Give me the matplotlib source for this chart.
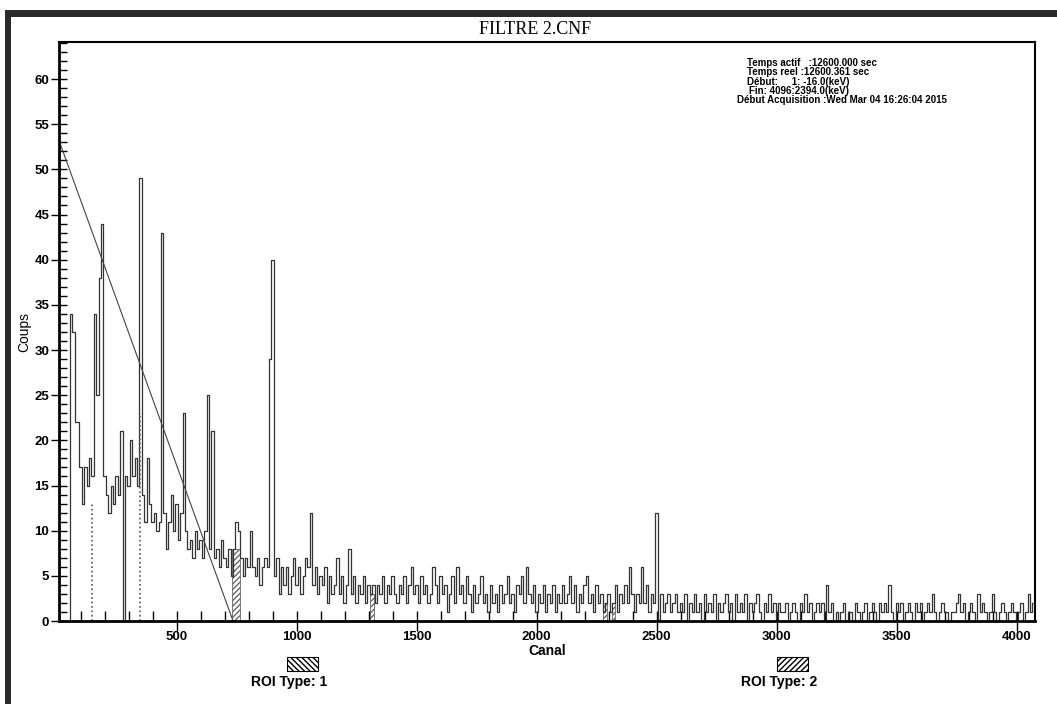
#Import libraries
import numpy as np
import matplotlib.pyplot as plt
from matplotlib.patches import Rectangle
from matplotlib.ticker import MultipleLocator

#Counts, one value every 10 channels
counts_0 = [0, 0, 0, 0, 0, 34, 32, 22, 22, 17,
            13, 17, 15, 18, 16, 34, 25, 38, 44, 16,
            14, 12, 15, 13, 16, 14, 21, 0, 16, 15,
            20, 16, 18, 15, 49, 14, 11, 18, 13, 11,
            12, 10, 11, 43, 12, 8, 11, 14, 10, 13,
            9, 12, 23, 10, 8, 9, 7, 10, 8, 9,
            7, 10, 25, 8, 21, 7, 8, 6, 9, 7,
            6, 8, 5, 8, 11, 10, 7, 5, 7, 6,
            10, 6, 5, 7, 4, 6, 7, 6, 29, 40,
            5, 7, 3, 6, 4, 6, 3, 5, 7, 4]
counts_1000 = [6, 3, 5, 7, 6, 12, 4, 6, 3, 5,
               4, 6, 2, 5, 3, 4, 7, 3, 5, 2,
               4, 8, 3, 5, 2, 4, 3, 5, 2, 4,
               3, 4, 2, 4, 3, 5, 2, 4, 3, 5,
               3, 2, 4, 3, 5, 2, 4, 6, 3, 4,
               2, 5, 3, 4, 2, 3, 6, 4, 2, 5,
               3, 4, 1, 3, 5, 2, 6, 3, 4, 2,
               5, 3, 1, 4, 2, 3, 5, 2, 3, 1,
               4, 2, 3, 1, 4, 2, 3, 5, 2, 3,
               1, 4, 3, 5, 2, 6, 3, 2, 4, 1]
counts_2000 = [3, 2, 4, 1, 3, 2, 4, 1, 3, 2,
               4, 2, 3, 5, 2, 4, 1, 3, 2, 4,
               5, 2, 3, 1, 4, 2, 3, 1, 2, 3,
               1, 2, 4, 1, 3, 2, 4, 2, 6, 3,
               1, 3, 2, 6, 2, 4, 1, 3, 2, 12,
               0, 3, 1, 2, 3, 1, 2, 3, 1, 2,
               1, 3, 0, 2, 1, 3, 1, 2, 0, 3,
               1, 2, 1, 3, 0, 2, 1, 2, 3, 1,
               2, 0, 3, 1, 2, 1, 3, 0, 2, 1,
               2, 3, 1, 0, 2, 1, 3, 1, 2, 0]
counts_3000 = [2, 1, 1, 2, 0, 1, 2, 1, 0, 2,
               1, 3, 1, 2, 0, 1, 2, 1, 2, 0,
               4, 1, 2, 0, 1, 0, 1, 2, 0, 1,
               1, 0, 2, 1, 0, 1, 2, 0, 1, 2,
               1, 0, 2, 1, 2, 1, 4, 1, 0, 2,
               1, 2, 0, 1, 2, 1, 0, 2, 1, 2,
               0, 1, 2, 1, 3, 1, 0, 1, 2, 1,
               1, 0, 1, 1, 2, 3, 1, 2, 0, 1,
               2, 1, 0, 3, 1, 2, 1, 0, 1, 3,
               1, 0, 1, 2, 1, 0, 1, 2, 1, 0,
               1, 2, 0, 1, 3, 1, 2]

#Straight line drawn over the low channels
line_ch = [10, 735]
line_counts = [53.2, 0]

#Single channel ROI markers (dotted)
mark_ch = [148, 346]
mark_counts = [13, 23]

#Hatched ROI areas: start, end, height
roi_start = [729, 1305, 2277, 2312]
roi_end = [764, 1323, 2293, 2326]
roi_height = [8, 3, 2, 2]

#Acquisition info
info_lines = ['Temps actif   :12600.000 sec',
              'Temps reel :12600.361 sec',
              'Début:     1: -16.0(keV)',
              'Fin: 4096:2394.0(keV)',
              'Début Acquisition :Wed Mar 04 16:26:04 2015']

counts = np.array(counts_0 + counts_1000 + counts_2000 + counts_3000)
channels = 10 * np.arange(1, len(counts) + 1)

W, H = 1057, 704
lab_font = ['Liberation Sans', 'DejaVu Sans']

fig = plt.figure(figsize=(W / 100, H / 100), dpi=100)
ax = fig.add_axes([59 / W, (H - 621) / H, (1035 - 59) / W, (621 - 42) / H])

ax.plot(channels, counts, drawstyle='steps-mid', color='#333333', lw=0.9)
ax.plot(line_ch, line_counts, color='#444444', lw=0.8)
ax.vlines(mark_ch, 0, mark_counts, colors='#555555', linestyles=':', lw=1.2)
for s, e, h in zip(roi_start, roi_end, roi_height):
    ax.fill_between([s, e], 0, h, facecolor='white', edgecolor='#666666',
                    hatch='//////', lw=0.6)

ax.set_xlim(10, 4076)
ax.set_ylim(0, 64.1)
ax.xaxis.set_major_locator(MultipleLocator(500))
ax.xaxis.set_minor_locator(MultipleLocator(100))
ax.yaxis.set_major_locator(MultipleLocator(5))
ax.yaxis.set_minor_locator(MultipleLocator(1))
ax.set_xticks(np.arange(500, 4001, 500))
ax.tick_params(axis='x', which='major', direction='inout', length=14, width=1, pad=0)
ax.tick_params(axis='x', which='minor', direction='in', length=7, width=1)
ax.tick_params(axis='y', which='major', direction='inout', length=12, width=1, pad=1)
ax.tick_params(axis='y', which='minor', direction='in', length=6, width=1)
for lab in ax.get_xticklabels() + ax.get_yticklabels():
    lab.set_family(lab_font)
    lab.set_fontweight('bold')
    lab.set_fontsize(9.5)
ax.spines['left'].set_linewidth(2)
ax.spines['bottom'].set_linewidth(2)
ax.spines['top'].set_linewidth(1.5)
ax.spines['right'].set_linewidth(1.5)

ax.set_xlabel('Canal', family=lab_font, fontsize=10, fontweight='bold', labelpad=1)
ax.set_ylabel('Coups', family=lab_font, fontsize=10, labelpad=2)

#Title and info block
fig.text(535 / W, 1 - 30 / H, 'FILTRE 2.CNF', family='Liberation Serif',
         fontsize=13, ha='center', va='center')
info_x = [747, 747, 747, 749, 737]
info_y = [63, 72, 82, 91, 100]
for t, x, y in zip(info_lines, info_x, info_y):
    fig.text(x / W, 1 - y / H, t, family=lab_font, fontsize=7,
             fontweight='bold', ha='left', va='center')

#ROI legend
for x0, hatch, t in [(287, '\\\\\\\\\\\\', 'ROI Type: 1'), (777, '//////', 'ROI Type: 2')]:
    fig.patches.append(Rectangle((x0 / W, 1 - 671 / H), 31 / W, 14 / H,
                                 transform=fig.transFigure, facecolor='white',
                                 edgecolor='black', hatch=hatch, lw=0.8))
    fig.text((x0 + 2) / W, 1 - 682 / H, t, family=lab_font, fontsize=10,
             fontweight='bold', ha='center', va='center')

#Dark frame of the screenshot
fig.patches.append(Rectangle((5 / W, 1 - 17 / H), (W - 5) / W, 7 / H,
                             transform=fig.transFigure, facecolor='#2b2b2b', lw=0))
fig.patches.append(Rectangle((5 / W, 0), 6 / W, 1 - 10 / H,
                             transform=fig.transFigure, facecolor='#2b2b2b', lw=0))

fig.savefig('out.png', dpi=100)
